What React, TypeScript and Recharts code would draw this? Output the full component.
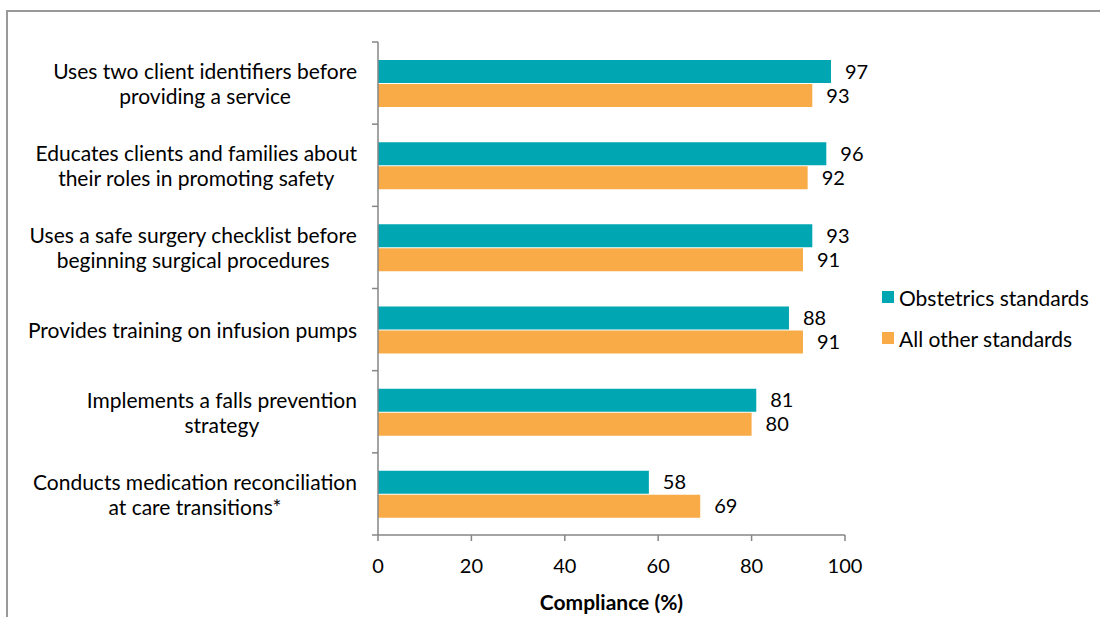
import { BarChart, Bar, XAxis, YAxis, Legend, LabelList } from "recharts";

const categories = [
  "Uses two client identifiers before\nproviding a service",
  "Educates clients and families about\ntheir roles in promoting safety",
  "Uses a safe surgery checklist before\nbeginning surgical procedures",
  "Provides training on infusion pumps",
  "Implements a falls prevention\nstrategy",
  "Conducts medication reconciliation\nat care transitions*",
];
const obstetrics = [97, 96, 93, 88, 81, 58];
const allOther = [93, 92, 91, 91, 80, 69];
const xTicks = [0, 20, 40, 60, 80, 100];

const seriesNames = ["Obstetrics standards", "All other standards"];
const TEAL = "#00A6B2";
const ORANGE = "#F8AB47";
const AXIS = "#868686";
const FONT = "Lato, 'Open Sans', sans-serif";
const TEXT_FS = 21;
const NUM_FS = 20;

const data = categories.map((name, i) => ({
  name,
  obstetrics: obstetrics[i],
  allOther: allOther[i],
}));

let canvas: HTMLCanvasElement | null = null;
function textWidth(s: string) {
  if (!canvas) canvas = document.createElement("canvas");
  const ctx = canvas.getContext("2d")!;
  ctx.font = `${TEXT_FS}px ${FONT}`;
  return ctx.measureText(s).width;
}

const BAND = (535 - 42) / categories.length;

function CategoryTick(props: any) {
  const { x, y, payload, index } = props;
  const lines: string[] = String(payload.value).split("\n");
  const maxW = Math.max(...lines.map(textWidth));
  const cx = x - 21 - maxW / 2;
  const lh = 25;
  const y0 = y - ((lines.length - 1) * lh) / 2;
  return (
    <g>
      <line x1={x - 6} x2={x} y1={y - BAND / 2} y2={y - BAND / 2} stroke={AXIS} strokeWidth={1.5} />
      {index === categories.length - 1 && (
        <line x1={x - 6} x2={x} y1={y + BAND / 2} y2={y + BAND / 2} stroke={AXIS} strokeWidth={1.5} />
      )}
      {lines.map((l, i) => (
        <text
          key={i}
          x={cx}
          y={y0 + i * lh}
          textAnchor="middle"
          dominantBaseline="central"
          fontSize={TEXT_FS}
          fontFamily={FONT}
          fill="#000"
        >
          {l}
        </text>
      ))}
    </g>
  );
}

function LegendContent() {
  const colors = [TEAL, ORANGE];
  return (
    <div style={{ fontFamily: FONT, fontSize: TEXT_FS, color: "#000", whiteSpace: "nowrap" }}>
      {seriesNames.map((n, i) => (
        <div key={n} style={{ display: "flex", alignItems: "center", height: 24, marginBottom: i === 0 ? 17 : 0 }}>
          <span style={{ display: "inline-block", width: 12, height: 12, background: colors[i], marginRight: 5 }} />
          <span>{n}</span>
        </div>
      ))}
    </div>
  );
}

export default function App() {
  return (
    <div style={{ position: "absolute", left: 0, top: 0, width: 1100, height: 617, overflow: "hidden", background: "#fff" }}>
      <div
        style={{
          position: "absolute",
          left: 6,
          top: 10,
          width: 1200,
          height: 700,
          borderLeft: "2px solid #999",
          borderTop: "2px solid #999",
        }}
      />
      <div style={{ position: "absolute", left: 0, top: 0 }}>
        <BarChart
          width={1100}
          height={617}
          data={data}
          layout="vertical"
          margin={{ top: 42, right: 255, left: 0, bottom: 0 }}
          barSize={23}
          barGap={1}
        >
          <XAxis
            type="number"
            domain={[0, 100]}
            ticks={xTicks}
            height={82}
            axisLine={{ stroke: AXIS, strokeWidth: 1.5 }}
            tickLine={{ stroke: AXIS, strokeWidth: 1.5 }}
            tickSize={6}
            tickMargin={18}
            tick={{ fill: "#000", fontSize: NUM_FS, fontFamily: FONT }}
            label={{
              value: "Compliance (%)",
              position: "insideBottom",
              offset: 7,
              fill: "#000",
              fontSize: TEXT_FS,
              fontWeight: "bold",
              fontFamily: FONT,
            }}
          />
          <YAxis
            type="category"
            dataKey="name"
            width={378}
            axisLine={{ stroke: AXIS, strokeWidth: 1.5 }}
            tickLine={false}
            tickSize={0}
            tickMargin={0}
            interval={0}
            tick={<CategoryTick />}
          />
          <Legend
            layout="horizontal"
            verticalAlign="middle"
            align="center"
            content={<LegendContent />}
            wrapperStyle={{ top: 285, left: 882, width: 215 }}
          />
          <Bar dataKey="obstetrics" name={seriesNames[0]} fill={TEAL} isAnimationActive={false}>
            <LabelList
              dataKey="obstetrics"
              position="right"
              offset={14}
              fill="#000"
              fontSize={NUM_FS}
              fontFamily={FONT}
            />
          </Bar>
          <Bar dataKey="allOther" name={seriesNames[1]} fill={ORANGE} isAnimationActive={false}>
            <LabelList
              dataKey="allOther"
              position="right"
              offset={14}
              fill="#000"
              fontSize={NUM_FS}
              fontFamily={FONT}
            />
          </Bar>
        </BarChart>
      </div>
    </div>
  );
}
